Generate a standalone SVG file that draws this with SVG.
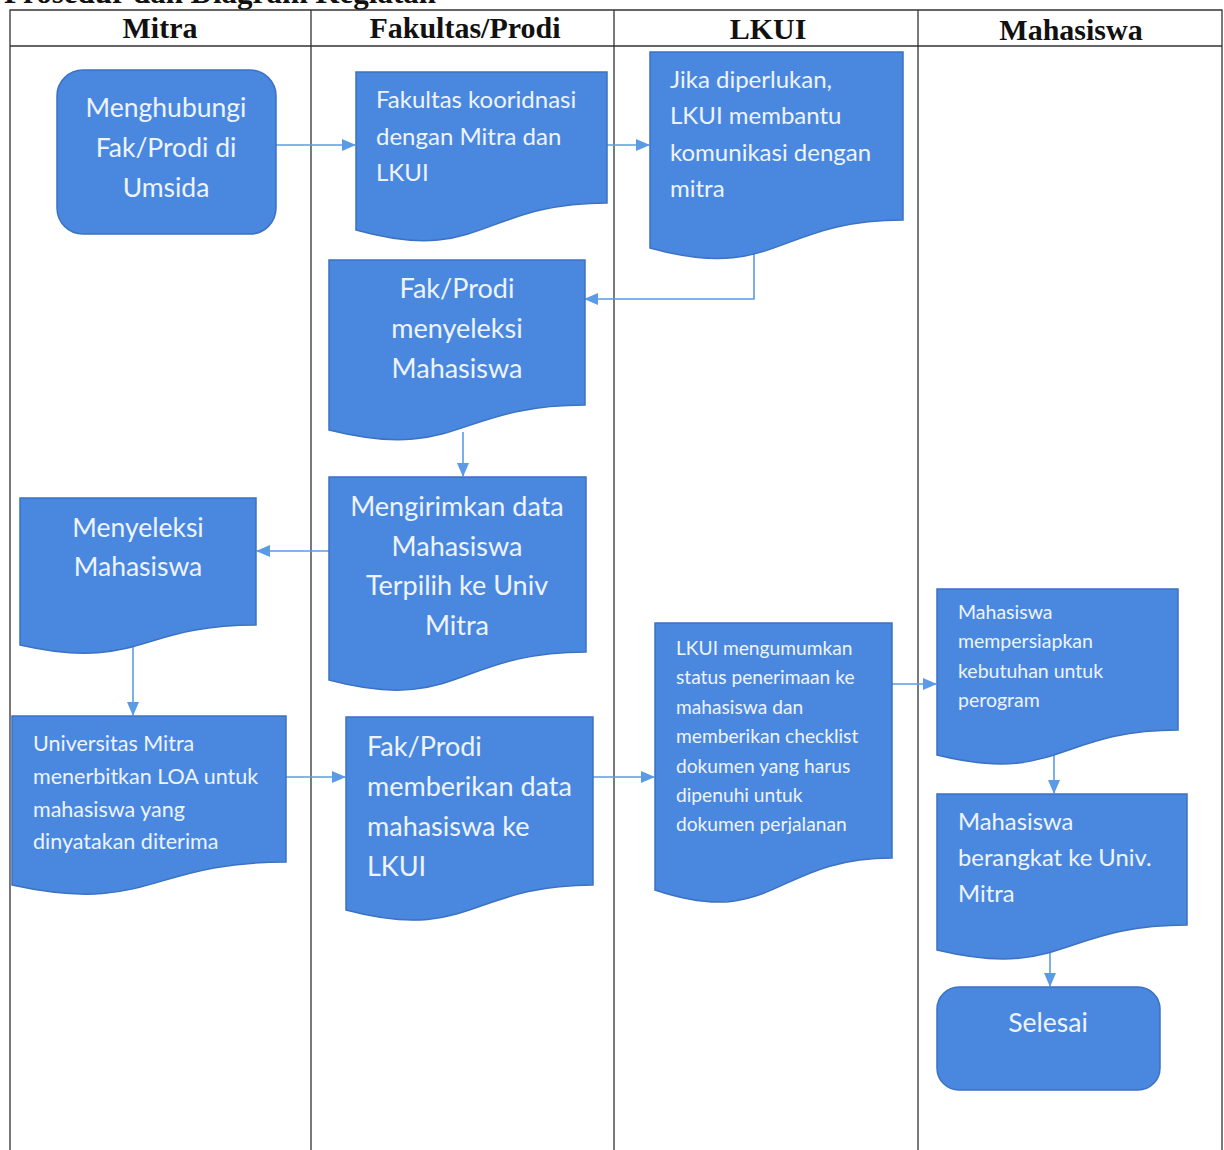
<svg xmlns="http://www.w3.org/2000/svg" width="1224" height="1150" viewBox="0 0 1224 1150">
<style>
.grid{stroke:#333;stroke-width:1.3;fill:none}
.hdr{font-family:"Liberation Serif",serif;font-weight:bold;font-size:30px;fill:#111;text-anchor:middle}
.node{fill:#4A88E0;stroke:#3B72C2;stroke-width:1.5}
.t{font-family:Lato,"Open Sans",sans-serif;fill:#EEF4FF}
.c{text-anchor:middle}
.conn{stroke:#5B9BE6;stroke-width:1.6;fill:none}
</style>
<defs>
<marker id="arr" markerUnits="userSpaceOnUse" markerWidth="14" markerHeight="14" viewBox="0 0 14 14" refX="13" refY="7" orient="auto">
<path d="M0,1 L14,7 L0,13 Z" fill="#5B9BE6"/>
</marker>
</defs>
<rect width="1224" height="1150" fill="#fff"/>
<text x="4" y="3" font-family="Liberation Serif,serif" font-weight="bold" font-size="31" fill="#111">Prosedur dan Diagram Kegiatan</text>
<g id="table">
<path class="grid" d="M10,1150 V10 H1222 V1150 M10,46 H1222 M311,10 V1150 M614,10 V1150 M918,10 V1150"/>
<text class="hdr" x="160" y="38">Mitra</text>
<text class="hdr" x="465" y="38">Fakultas/Prodi</text>
<text class="hdr" x="768" y="39">LKUI</text>
<text class="hdr" x="1071" y="40">Mahasiswa</text>
</g>
<g id="connectors">
<path class="conn" d="M276,145 H355" marker-end="url(#arr)"/>
<path class="conn" d="M607,145 H649" marker-end="url(#arr)"/>
<path class="conn" d="M754,252 V299 H585" marker-end="url(#arr)"/>
<path class="conn" d="M463,432 V476" marker-end="url(#arr)"/>
<path class="conn" d="M329,551 H257" marker-end="url(#arr)"/>
<path class="conn" d="M133,644 V715" marker-end="url(#arr)"/>
<path class="conn" d="M286,777 H345" marker-end="url(#arr)"/>
<path class="conn" d="M593,777 H654" marker-end="url(#arr)"/>
<path class="conn" d="M892,684 H936" marker-end="url(#arr)"/>
<path class="conn" d="M1054,752 V793" marker-end="url(#arr)"/>
<path class="conn" d="M1050,948 V986" marker-end="url(#arr)"/>
</g>
<g id="n1">
<rect class="node" x="57" y="70" width="219" height="164" rx="26"/>
<text class="t c" font-size="26.5" x="166"><tspan x="166" y="117">Menghubungi</tspan><tspan x="166" y="157">Fak/Prodi di</tspan><tspan x="166" y="197">Umsida</tspan></text>
</g>
<g id="n2">
<path class="node" d="M356,72 H607 V203 C481,203 481,265 356,230 Z"/>
<text class="t" font-size="24" x="376"><tspan x="376" y="108">Fakultas kooridnasi</tspan><tspan x="376" y="145">dengan Mitra dan</tspan><tspan x="376" y="181">LKUI</tspan></text>
</g>
<g id="n3">
<path class="node" d="M650,52 H903 V220 C776,220 776,283 650,248 Z"/>
<text class="t" font-size="24" x="670"><tspan x="670" y="88">Jika diperlukan,</tspan><tspan x="670" y="124">LKUI membantu</tspan><tspan x="670" y="161">komunikasi dengan</tspan><tspan x="670" y="197">mitra</tspan></text>
</g>
<g id="n4">
<path class="node" d="M329,260 H585 V405 C457,405 457,462 329,430 Z"/>
<text class="t c" font-size="27" x="457"><tspan x="457" y="298">Fak/Prodi</tspan><tspan x="457" y="338">menyeleksi</tspan><tspan x="457" y="378">Mahasiswa</tspan></text>
</g>
<g id="n5">
<path class="node" d="M329,477 H586 V652 C457,652 457,714 329,680 Z"/>
<text class="t c" font-size="27" x="457"><tspan x="457" y="516">Mengirimkan data</tspan><tspan x="457" y="556">Mahasiswa</tspan><tspan x="457" y="595">Terpilih ke Univ</tspan><tspan x="457" y="635">Mitra</tspan></text>
</g>
<g id="n6">
<path class="node" d="M20,498 H256 V625 C138,625 138,672 20,645 Z"/>
<text class="t c" font-size="26.5" x="138"><tspan x="138" y="537">Menyeleksi</tspan><tspan x="138" y="576">Mahasiswa</tspan></text>
</g>
<g id="n7">
<path class="node" d="M12,716 H286 V862 C149,862 149,915 12,885 Z"/>
<text class="t" font-size="21.5" x="33"><tspan x="33" y="751">Universitas Mitra</tspan><tspan x="33" y="784">menerbitkan LOA untuk</tspan><tspan x="33" y="817">mahasiswa yang</tspan><tspan x="33" y="849">dinyatakan diterima</tspan></text>
</g>
<g id="n8">
<path class="node" d="M346,717 H593 V885 C470,885 470,943 346,910 Z"/>
<text class="t" font-size="27" x="367"><tspan x="367" y="756">Fak/Prodi</tspan><tspan x="367" y="796">memberikan data</tspan><tspan x="367" y="836">mahasiswa ke</tspan><tspan x="367" y="876">LKUI</tspan></text>
</g>
<g id="n9">
<path class="node" d="M655,623 H892 V858 C774,858 774,930 655,890 Z"/>
<text class="t" font-size="19.2" x="676"><tspan x="676" y="655">LKUI mengumumkan</tspan><tspan x="676" y="684">status penerimaan ke</tspan><tspan x="676" y="714">mahasiswa dan</tspan><tspan x="676" y="743">memberikan checklist</tspan><tspan x="676" y="773">dokumen yang harus</tspan><tspan x="676" y="802">dipenuhi untuk</tspan><tspan x="676" y="831">dokumen perjalanan</tspan></text>
</g>
<g id="n10">
<path class="node" d="M937,589 H1178 V730 C1058,730 1058,785 937,755 Z"/>
<text class="t" font-size="19.5" x="958"><tspan x="958" y="619">Mahasiswa</tspan><tspan x="958" y="648">mempersiapkan</tspan><tspan x="958" y="678">kebutuhan untuk</tspan><tspan x="958" y="707">perogram</tspan></text>
</g>
<g id="n11">
<path class="node" d="M937,794 H1187 V925 C1062,925 1062,980 937,950 Z"/>
<text class="t" font-size="23.8" x="958"><tspan x="958" y="830">Mahasiswa</tspan><tspan x="958" y="866">berangkat ke Univ.</tspan><tspan x="958" y="902">Mitra</tspan></text>
</g>
<g id="n12">
<rect class="node" x="937" y="987" width="223" height="103" rx="22"/>
<text class="t c" font-size="26.5" x="1048" y="1032">Selesai</text>
</g>
</svg>
